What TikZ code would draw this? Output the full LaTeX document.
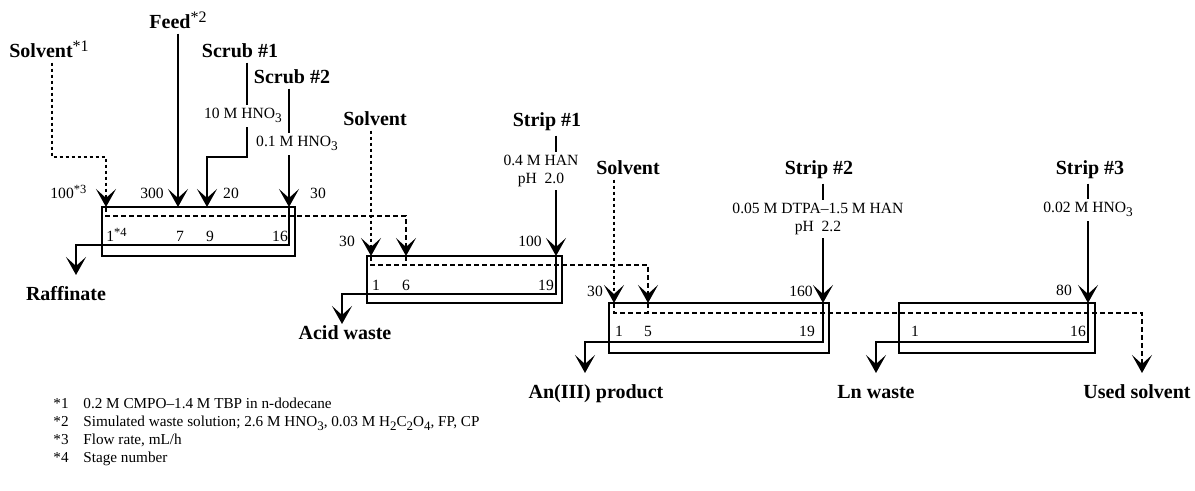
\documentclass[tikz,border=0pt]{standalone}
\usepackage{fontspec}
\setmainfont{Liberation Serif}
\usetikzlibrary{arrows.meta,fit,calc}
\newcommand{\chsub}[1]{\raisebox{-0.5ex}{\scalebox{0.85}{#1}}}
\newcommand{\notemark}[1]{\raisebox{0.75ex}{\scalebox{0.8}{\mdseries #1}}}

\begin{document}
\begin{tikzpicture}[
  x=0.5pt, y=-0.5pt,
  bank/.style={draw, line width=0.9pt, inner sep=0pt},
  lbl/.style={font=\fontsize{10}{12}\selectfont\bfseries, inner sep=2pt, anchor=base},
  chem/.style={font=\fontsize{7.8}{8.6}\selectfont, fill=white, inner sep=2pt, align=center},
  num/.style={font=\fontsize{7.8}{9}\selectfont, inner sep=0pt, anchor=base},
  note/.style={font=\fontsize{7.6}{9}\selectfont, inner sep=0pt, anchor=base west},
  arr/.style={-{Stealth[length=9pt, width=10pt, inset=4.5pt]}, line width=0.9pt},
  org/.style={line width=0.9pt, dash pattern=on 2.5pt off 1.5pt},
  solv/.style={line width=0.9pt, dash pattern=on 1.5pt off 1.5pt},
]
  \useasboundingbox (0,0) rectangle (1195,491);

  % banks
  \node[bank, fit={(102,207) (295,256)}] (b1) {};
  \node[bank, fit={(367,256) (562,303)}] (b2) {};
  \node[bank, fit={(609,303) (829,353)}] (b3) {};
  \node[bank, fit={(899,303) (1095,353)}] (b4) {};

  % feed points and outlets
  \coordinate (b1-1) at (106,207);
  \coordinate (b1-7) at (178,207);
  \coordinate (b1-9) at (207,207);
  \coordinate (b1-16) at (289,207);
  \coordinate (b2-1) at (371,256);
  \coordinate (b2-6) at (406,256);
  \coordinate (b2-19) at (556,256);
  \coordinate (b3-1) at (614,303);
  \coordinate (b3-5) at (648,303);
  \coordinate (b3-19) at (823,303);
  \coordinate (b4-16) at (1088,303);
  \coordinate (raff) at (76,275);
  \coordinate (acid) at (342,324);
  \coordinate (anout) at (585,373);
  \coordinate (lnout) at (876,373);
  \coordinate (used) at (1142,373);

  % stream labels
  \node[lbl] (solv1) at (49,58) {Solvent\notemark{*1}};
  \node[lbl] (feed) at (178,29) {Feed\notemark{*2}};
  \node[lbl] (scrub1) at (240,58) {Scrub \#1};
  \node[lbl] (scrub2) at (292,84) {Scrub \#2};
  \node[lbl] (solv2) at (375,126) {Solvent};
  \node[lbl] (strip1) at (547,127) {Strip \#1};
  \node[lbl] (solv3) at (628,175) {Solvent};
  \node[lbl] (strip2) at (819,175) {Strip \#2};
  \node[lbl] (strip3) at (1090,175) {Strip \#3};
  \node[lbl] (raffinate) at (66,301) {Raffinate};
  \node[lbl] (acidwaste) at (345,340) {Acid waste};
  \node[lbl] (anprod) at (596,399) {An(III) product};
  \node[lbl] (lnwaste) at (876,399) {Ln waste};
  \node[lbl] (usedsolv) at (1137,399) {Used solvent};

  % extraction
  \draw[solv, arr] ([xshift=1.5pt]solv1.south) |- ($(b1-1)+(0,-50)$) -- (b1-1);
  \draw[arr] (feed.south -| b1-7) -- (b1-7);
  \draw[arr] ([xshift=3.5pt]scrub1.south) |- ($(b1-9)+(0,-50)$) -- (b1-9);
  \draw[arr] (scrub2.south -| b1-16) -- (b1-16);
  \draw[org, arr] (b1-1) -- ++(0,9) -| (b2-6);
  \draw[arr] (b1-16) -- ++(0,38) -| (raff);

  % strip 1
  \draw[solv, arr] (solv2.south -| b2-1) -- (b2-1);
  \draw[arr] (strip1.south -| b2-19) -- (b2-19);
  \draw[org, arr] (b2-1) -- ++(0,9) -| (b3-5);
  \draw[org] (b2-6) -- ++(0,9);
  \draw[arr] (b2-19) -- ++(0,38) -| (acid);

  % strip 2
  \draw[solv, arr] (solv3.south -| b3-1) -- (b3-1);
  \draw[arr] (strip2.south -| b3-19) -- (b3-19);
  \draw[org, arr] (b3-1) -- ++(0,10) -| (used);
  \draw[org] (b3-5) -- ++(0,10);
  \draw[arr] (b3-19) -- ++(0,39) -| (anout);

  % strip 3
  \draw[arr] (strip3.south -| b4-16) -- (b4-16);
  \draw[arr] (b4-16) -- ++(0,39) -| (lnout);

  % compositions
  \node[chem, anchor=base] (hno3a) at (243,119) {10 M HNO\chsub{3}};
  \node[chem, anchor=base] (hno3b) at (297,147) {0.1 M HNO\chsub{3}};
  \node[chem] (han) at (541,171) {0.4 M HAN\\pH\ \ 2.0};
  \node[chem] (dtpa) at (818,219) {0.05 M DTPA--1.5 M HAN\\pH\ \ 2.2};
  \node[chem, anchor=base] (hno3c) at (1088,213) {0.02 M HNO\chsub{3}};

  % flow rates
  \node[num, anchor=base west] (f1) at (50,199) {100\notemark{*3}};
  \node[num] (f7) at (152,199) {300};
  \node[num] (f9) at (231,199) {20};
  \node[num] (f16) at (318,199) {30};
  \node[num] (f21) at (347,247) {30};
  \node[num] (f219) at (530,247) {100};
  \node[num] (f31) at (595,297) {30};
  \node[num] (f319) at (801,297) {160};
  \node[num] (f416) at (1064,296) {80};

  % stage numbers
  \node[num, anchor=base west] (s11) at (106,242) {1\notemark{*4}};
  \node[num] (s17) at (180,242) {7};
  \node[num] (s19) at (210,242) {9};
  \node[num] (s116) at (280,242) {16};
  \node[num] (s21) at (376,291) {1};
  \node[num] (s26) at (406,291) {6};
  \node[num] (s219) at (546,291) {19};
  \node[num] (s31) at (619,337) {1};
  \node[num] (s35) at (648,337) {5};
  \node[num] (s319) at (807,337) {19};
  \node[num] (s41) at (915,337) {1};
  \node[num] (s416) at (1078,337) {16};

  % notes
  \node[note] (k1) at (53,409) {*1};
  \node[note] (n1) at (83,409) {0.2 M CMPO--1.4 M TBP in n-dodecane};
  \node[note] (k2) at (53,427) {*2};
  \node[note] (n2) at (83,427) {Simulated waste solution; 2.6 M HNO\chsub{3}, 0.03 M H\chsub{2}C\chsub{2}O\chsub{4}, FP, CP};
  \node[note] (k3) at (53,445) {*3};
  \node[note] (n3) at (83,445) {Flow rate, mL/h};
  \node[note] (k4) at (53,463) {*4};
  \node[note] (n4) at (83,463) {Stage number};
\end{tikzpicture}
\end{document}
